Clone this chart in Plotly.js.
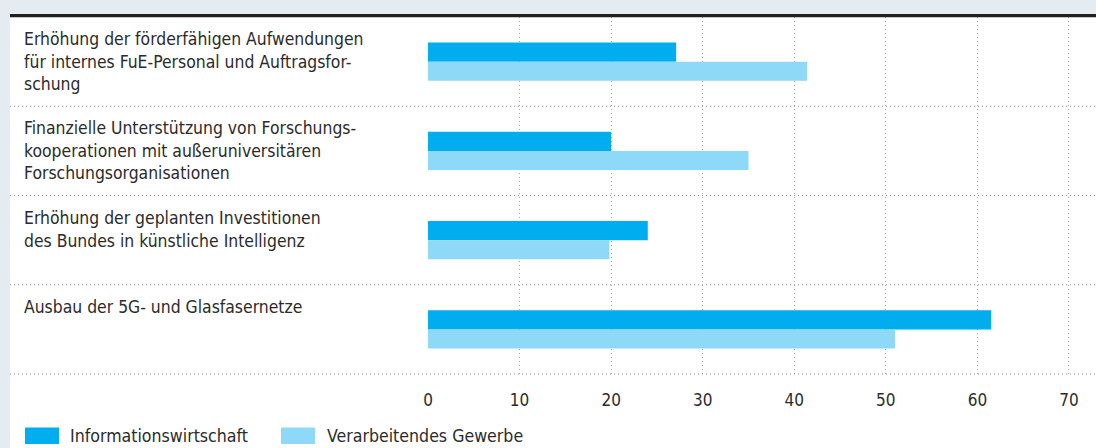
<!DOCTYPE html>
<html>
<head>
<meta charset="utf-8">
<script src="https://cdn.plot.ly/plotly-3.0.1.min.js"></script>
<style>html,body{margin:0;padding:0;background:#e4ecf2;}#chart{width:1096px;height:448px;}</style>
</head>
<body>
<div id="chart"></div>
<script>
const categories = [
  "Erhöhung der förderfähigen Aufwendungen<br>für internes FuE-Personal und Auftragsfor-<br>schung",
  "Finanzielle Unterstützung von Forschungs-<br>kooperationen mit außeruniversitären<br>Forschungsorganisationen",
  "Erhöhung der geplanten Investitionen<br>des Bundes in künstliche Intelligenz",
  "Ausbau der 5G- und Glasfasernetze"
];
const seriesNames = ["Informationswirtschaft", "Verarbeitendes Gewerbe"];
const infoWirtschaft = [27.1, 20.0, 24.0, 61.5];
const verarbGewerbe = [41.4, 35.0, 19.8, 51.0];
const tickValues = [0, 10, 20, 30, 40, 50, 60, 70];
const colors = ["#00aeef", "#8ed8f8"];

const W = 1096, H = 448, T = 17, B = 74;
const plotH = H - T - B;
const FONT = "DejaVu Sans Condensed, DejaVu Sans, sans-serif";
const py = (px) => 1 - (px - T) / plotH;
const pxX = (px) => px / W;

const ids = categories.map((c, i) => "c" + i);
const traces = [infoWirtschaft, verarbGewerbe].map((vals, k) => ({
  type: "bar", orientation: "h", x: vals, y: ids, name: seriesNames[k],
  marker: {color: colors[k], line: {width: 0}}, showlegend: false, hoverinfo: "x"
}));

const shapes = [
  {type: "rect", xref: "paper", yref: "paper", x0: pxX(10), x1: 1, y0: py(H + 5), y1: py(T), fillcolor: "#ffffff", line: {width: 0}, layer: "below"},
  {type: "rect", xref: "paper", yref: "paper", x0: pxX(10), x1: 1, y0: py(17.3), y1: py(14), fillcolor: "#231f20", line: {width: 0}, layer: "above"}
];
const bandH = plotH / categories.length;
for (let i = 1; i <= categories.length; i++) {
  const yy = T + i * bandH;
  shapes.push({type: "line", xref: "paper", yref: "paper", x0: pxX(10), x1: 1, y0: py(yy), y1: py(yy),
    line: {color: "#8a8a8a", width: 1, dash: "1px,3px"}, layer: "above"});
}

const annotations = categories.map((c, i) => ({
  xref: "paper", yref: "paper", x: pxX(22), y: py(T + i * bandH + 10), xanchor: "left", yanchor: "top",
  align: "left", text: c, showarrow: false, font: {family: FONT, size: 17.4, color: "#2b2b2b"}
}));

// manual legend
const legendX = [25, 281];
const legendTextX = [68, 325];
seriesNames.forEach((n, k) => {
  shapes.push({type: "rect", xref: "paper", yref: "paper", x0: pxX(legendX[k]), x1: pxX(legendX[k] + 34),
    y0: py(444), y1: py(427.5), fillcolor: colors[k], line: {width: 0}});
  annotations.push({xref: "paper", yref: "paper", x: pxX(legendTextX[k]), y: py(436), xanchor: "left", yanchor: "middle",
    text: n, showarrow: false, font: {family: FONT, size: 17.6, color: "#2b2b2b"}});
});

const layout = {
  width: W, height: H,
  margin: {l: 0, r: 0, t: T, b: B, pad: 0},
  paper_bgcolor: "#e4ecf2", plot_bgcolor: "rgba(0,0,0,0)",
  barmode: "group", bargap: 0.574, bargroupgap: 0,
  xaxis: {domain: [428 / W, 1], range: [0, 72.95], tickvals: tickValues, ticktext: tickValues.map(String),
    showgrid: true, gridcolor: "#a8a8a8", griddash: "1px,3px", gridwidth: 1, zeroline: false,
    showline: false, ticks: "", ticklabelstandoff: 14,
    tickfont: {family: FONT, size: 17, color: "#2b2b2b"}, fixedrange: true},
  yaxis: {type: "category", categoryarray: ids, autorange: "reversed", showticklabels: false,
    showgrid: false, zeroline: false, showline: false, ticks: "", range: [3.5, -0.5]},
  shapes: shapes, annotations: annotations, showlegend: false
};
Plotly.newPlot("chart", traces, layout, {displayModeBar: false, staticPlot: true});
</script>
</body>
</html>
